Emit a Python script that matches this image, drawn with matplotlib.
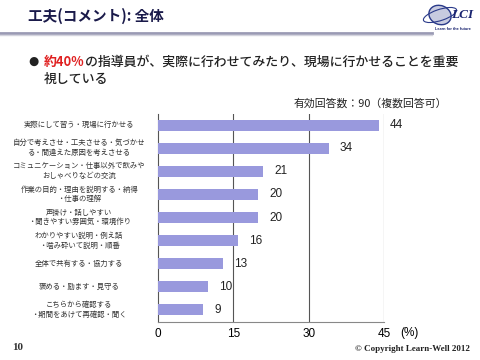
import matplotlib
matplotlib.use("Agg")
import matplotlib.pyplot as plt
from matplotlib.patches import Ellipse
import numpy as np

plt.rcParams['font.family'] = ['Noto Sans CJK JP', 'DejaVu Sans']

categories = [
    "実際にして習う・現場に行かせる",
    "自分で考えさせ・工夫させる・気づかせ\nる・間違えた原因を考えさせる",
    "コミュニケーション・仕事以外で飲みや\nおしゃべりなどの交流",
    "作業の目的・理由を説明する・納得\n・仕事の理解",
    "声掛け・話しやすい\n・聞きやすい雰囲気・環境作り",
    "わかりやすい説明・例え話\n・噛み砕いて説明・順番",
    "全体で共有する・協力する",
    "褒める・励ます・見守る",
    "こちらから確認する\n・期間をあけて再確認・聞く",
]
values = [44, 34, 21, 20, 20, 16, 13, 10, 9]
xticks = [0, 15, 30, 45]
xticklabels = ["0", "15", "30", "45"]

fig = plt.figure(figsize=(4.8, 3.6), dpi=100)
W, H = 480, 360
def fx(px): return px / W
def fy(py): return 1 - py / H

ax = fig.add_axes([fx(158), fy(321.5), fx(384) - fx(158), fy(113.5) - fy(321.5)])
y = np.arange(len(values))
ax.barh(y, values, height=0.48, color="#9999dd", zorder=3)
ax.set_ylim(len(values) - 0.5, -0.5)
ax.set_xlim(0, 45)
for v, yy in zip(values, y):
    ax.text(v + 2.2, yy, str(v), va="center", ha="left", fontsize=8.5,
            family=["Liberation Sans", "DejaVu Sans"], color="#222222")
ax.set_xticks(xticks)
ax.set_xticklabels(xticklabels, fontsize=8.5, family=["Liberation Sans", "DejaVu Sans"])
ax.tick_params(axis="x", length=0, pad=5)
ax.set_yticks(y)
ax.set_yticklabels([])
ax.tick_params(axis="y", length=0)
for xv in xticks[1:]:
    ax.axvline(xv, color="#555555", lw=0.8, zorder=1)
for s in ["top", "right"]:
    ax.spines[s].set_visible(False)
ax.spines["left"].set_color("#555555")
ax.spines["bottom"].set_color("#888888")
ax.spines["left"].set_linewidth(0.8)
ax.spines["bottom"].set_linewidth(0.8)

# y category labels (centered)
for cat, yy in zip(categories, y):
    ax.text(-15.7, yy, cat, ha="center", va="center", fontsize=5.3,
            color="#333333", linespacing=1.3, transform=ax.transData, clip_on=False)

fig.text(fx(400), fy(333), "(%)", fontsize=8.5, ha="left", va="center",
         family=["Liberation Sans", "DejaVu Sans"])
fig.text(fx(447), fy(103), "有効回答数：90（複数回答可）", fontsize=7.8, ha="right", va="center", color="#222222")

# Title
fig.text(fx(28), fy(16), "工夫(コメント): 全体", fontsize=10.5, fontweight="bold", ha="left", va="center",
         color="#1a1a4a")
# Title rule
fig.add_artist(plt.Line2D([0, fx(432)], [fy(32.5), fy(32.5)], color="#9a9ab4", lw=2.0))
fig.add_artist(plt.Line2D([0, fx(432)], [fy(34.5), fy(34.5)], color="#d4d4de", lw=1))

# Logo
fig.add_artist(Ellipse((fx(440), fy(15)), 0.045, 0.055, angle=20, facecolor="#c8cbe0", edgecolor="#2a3a8a", lw=1.0))
fig.add_artist(Ellipse((fx(440), fy(15)), 0.075, 0.03, angle=25, facecolor="none", edgecolor="#2a3a8a", lw=0.8))
fig.text(fx(451), fy(15), "LCI", fontsize=9.5, fontweight="bold", style="italic",
         family=["Liberation Serif", "DejaVu Serif"], color="#1a2470", ha="left", va="center")
fig.text(fx(453), fy(29), "Learn for the future", fontsize=2.8, color="#1a2470", ha="center", va="center",
         family=["Liberation Sans", "DejaVu Sans"], fontweight="bold")

# Bullet text
fig.text(fx(28), fy(61), "●", fontsize=8.5, ha="left", va="center", color="#222222",
         family=["DejaVu Sans"])
renderer = fig.canvas.get_renderer()
t1 = fig.text(fx(44), fy(62), "約40%", fontsize=9.3, fontweight="bold", color="#e02020", ha="left", va="center")
bb = t1.get_window_extent(renderer=renderer)
fig.text(bb.x1 / fig.dpi / 4.8, fy(62), "の指導員が、実際に行わせてみたり、現場に行かせることを重要",
         fontsize=9.3, fontweight="medium", color="#222222", ha="left", va="center")
fig.text(fx(44), fy(79), "視している", fontsize=9.3, fontweight="medium", color="#222222", ha="left", va="center")

# Footer
fig.text(fx(12), fy(348), "10", fontsize=8, family=["Liberation Serif", "DejaVu Serif"], fontweight="bold",
         color="#333333", ha="left", va="center")
fig.text(fx(470), fy(349), "© Copyright Learn-Well 2012", fontsize=6.5, family=["Liberation Serif", "DejaVu Serif"],
         fontweight="bold", color="#222222", ha="right", va="center")

fig.savefig("out.png", dpi=100)
